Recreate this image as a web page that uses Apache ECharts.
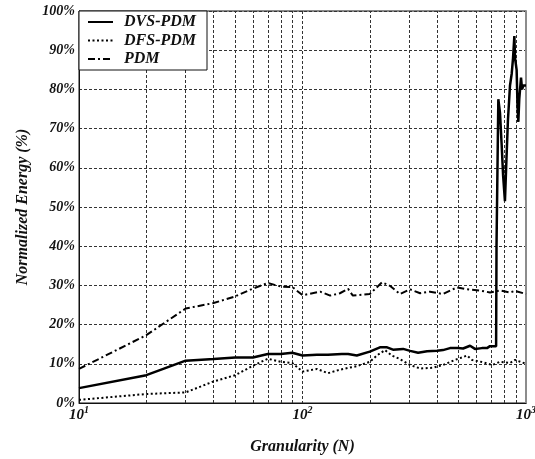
<!DOCTYPE html>
<html>
<head>
<meta charset="utf-8">
<script src="https://cdn.jsdelivr.net/npm/echarts@6/dist/echarts.min.js"></script>
<style>html,body{margin:0;padding:0;background:#fff;}#c{width:535px;height:459px;}</style>
</head>
<body>
<div id="c"></div>
<script>
// Granularity values (N) and normalized energy (%) for each series
const dvsN = [10, 20, 30, 40, 50, 60, 70, 80, 90, 100, 116, 130, 150, 160, 175, 200, 222, 239, 254, 282, 303, 329, 361, 400, 425, 457, 496, 523, 562, 591, 635, 669, 690, 735, 738, 752, 765, 778, 790, 805, 815, 830, 848, 863, 875, 887, 893, 908, 916, 924, 933, 950, 960, 973, 990, 1000];
const dvsV = [3.8, 7.1, 10.8, 11.2, 11.6, 11.6, 12.5, 12.5, 12.8, 12.1, 12.3, 12.3, 12.5, 12.5, 12.1, 13.1, 14.2, 14.2, 13.6, 13.8, 13.3, 12.8, 13.2, 13.3, 13.5, 14.0, 14.0, 13.9, 14.6, 13.8, 14.0, 14.0, 14.5, 14.5, 40, 77.5, 74, 66, 58, 51.5, 60, 72, 81, 84, 88, 93.6, 88, 85, 76, 71.7, 77.5, 83, 80, 81, 80.5, 81];
const dfsN = [10, 20, 30, 40, 50, 60, 70, 80, 90, 100, 116, 130, 147, 175, 200, 215, 234, 251, 273, 303, 336, 384, 425, 481, 545, 573, 642, 705, 765, 848, 893, 1000];
const dfsV = [0.8, 2.3, 2.7, 5.5, 7.1, 9.5, 11.3, 10.5, 10.2, 8.0, 8.7, 7.6, 8.5, 9.4, 10.5, 12.1, 13.5, 12.1, 11.2, 9.7, 8.8, 9.0, 9.7, 11.0, 12.1, 11.0, 10.4, 9.7, 10.5, 10.2, 11.0, 10.0];
const pdmN = [10, 20, 30, 40, 50, 60, 70, 80, 90, 100, 120, 133, 147, 160, 168, 200, 227, 246, 273, 303, 336, 372, 425, 491, 545, 622, 690, 765, 848, 893, 1000];
const pdmV = [8.7, 17.3, 24.1, 25.5, 27.2, 29.2, 30.6, 29.7, 29.6, 27.5, 28.4, 27.4, 28.0, 29.1, 27.4, 27.8, 30.8, 29.9, 27.8, 29.0, 28.0, 28.4, 27.8, 29.5, 29.0, 28.7, 28.2, 28.7, 28.2, 28.6, 27.8];
const seriesNames = ['DVS-PDM', 'DFS-PDM', 'PDM'];
const minorGridN = [20, 30, 40, 50, 60, 70, 80, 90, 200, 300, 400, 500, 600, 700, 800, 900];
const xName = 'Granularity (N)';
const yName = 'Normalized Energy (%)';

const FONT = '"Liberation Serif", "Times New Roman", serif';
const zip = (a, b) => a.map((x, i) => [x, b[i]]);

const chart = echarts.init(document.getElementById('c'), null, {renderer: 'canvas'});
chart.setOption({
  animation: false,
  backgroundColor: '#fff',
  grid: {left: 79, right: 9, top: 11, bottom: 56, containLabel: false, outerBoundsMode: 'none',
    show: true, borderColor: '#111', borderWidth: 1, backgroundColor: 'transparent'},
  legend: {
    data: seriesNames,
    orient: 'vertical',
    left: 79, top: 11, z: 20,
    backgroundColor: '#fff',
    borderColor: '#111', borderWidth: 1, borderRadius: 0,
    padding: [2, 11, 2, 8],
    itemWidth: 25, itemHeight: 12, itemGap: 0.5,
    itemStyle: {opacity: 0},
    textStyle: {fontFamily: FONT, fontSize: 16, fontWeight: 'bold', fontStyle: 'italic', color: '#111', lineHeight: 18, padding: [0, 0, 0, 6]},
    selectedMode: false
  },
  xAxis: {
    type: 'log', logBase: 10, min: 10, max: 1000,
    name: xName, nameLocation: 'middle', nameGap: 36,
    nameTextStyle: {fontFamily: FONT, fontSize: 16, fontWeight: 'bold', fontStyle: 'italic', color: '#111'},
    axisLine: {lineStyle: {color: '#111', width: 1}},
    axisTick: {show: false},
    axisLabel: {
      margin: 2, showMinLabel: true, showMaxLabel: true,
      formatter: function (v) { return '{b|10}{s|' + Math.round(Math.log10(v)) + '}'; },
      rich: {
        b: {fontFamily: FONT, fontSize: 15, fontWeight: 'bold', fontStyle: 'italic', color: '#111', lineHeight: 20},
        s: {fontFamily: FONT, fontSize: 10, fontWeight: 'bold', fontStyle: 'italic', color: '#111', lineHeight: 10, verticalAlign: 'top'}
      }
    },
    splitLine: {show: true, lineStyle: {color: '#333', width: 1, type: [3, 2]}}
  },
  yAxis: [{
    type: 'value', min: 0, max: 100, interval: 10,
    name: yName, nameLocation: 'middle', nameGap: 48, nameRotate: 90,
    nameTextStyle: {fontFamily: FONT, fontSize: 16, fontWeight: 'bold', fontStyle: 'italic', color: '#111'},
    axisLine: {show: true, lineStyle: {color: '#111', width: 1}},
    axisTick: {show: false},
    axisLabel: {margin: 4, formatter: '{value}%', fontFamily: FONT, fontSize: 14, fontWeight: 'bold', fontStyle: 'italic', color: '#111'},
    splitLine: {show: true, lineStyle: {color: '#333', width: 1, type: [3, 2]}}
  }, {
    type: 'value', min: 0, max: 100, interval: 10, position: 'right',
    axisLine: {show: true, lineStyle: {color: '#8c8c8c', width: 2}},
    axisTick: {show: false}, axisLabel: {show: false}, splitLine: {show: false}
  }],
  series: [
    {
      name: 'minor-grid', type: 'line', data: [], z: 1, silent: true,
      markLine: {
        silent: true, symbol: 'none', animation: false, z: 1,
        label: {show: false},
        lineStyle: {color: '#333', width: 1, type: [3, 2]},
        data: minorGridN.map(v => ({xAxis: v}))
      }
    },
    {
      name: seriesNames[0], type: 'line', data: zip(dvsN, dvsV), showSymbol: false, symbol: 'none', z: 5,
      lineStyle: {color: '#000', width: 2.5, type: 'solid'}, itemStyle: {color: '#000'}
    },
    {
      name: seriesNames[1], type: 'line', data: zip(dfsN, dfsV), showSymbol: false, symbol: 'none', z: 4,
      lineStyle: {color: '#000', width: 2, type: [2, 2.5]}, itemStyle: {color: '#000'}
    },
    {
      name: seriesNames[2], type: 'line', data: zip(pdmN, pdmV), showSymbol: false, symbol: 'none', z: 4,
      lineStyle: {color: '#000', width: 2, type: [7, 3, 2, 3]}, itemStyle: {color: '#000'}
    }
  ]
});
</script>
</body>
</html>
